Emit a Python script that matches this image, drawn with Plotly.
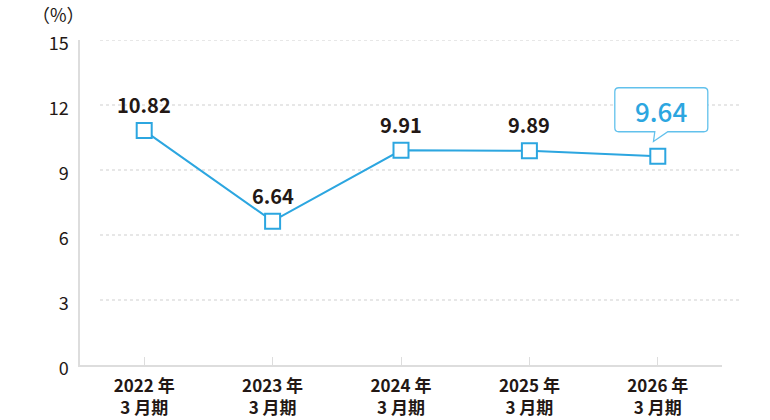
import plotly.graph_objects as go

categories = ["2022 年<br>3 月期", "2023 年<br>3 月期", "2024 年<br>3 月期", "2025 年<br>3 月期", "2026 年<br>3 月期"]
values = [10.82, 6.64, 9.91, 9.89, 9.64]
labels = ["10.82", "6.64", "9.91", "9.89", "9.64"]
y_ticks = [0, 3, 6, 9, 12, 15]

FONT = "Noto Sans CJK JP, Noto Sans, sans-serif"
BLUE = "#2ca6e0"
DARK = "#231815"

xs = list(range(len(categories)))

fig = go.Figure()
fig.add_trace(go.Scatter(
    x=xs, y=values, mode="lines+markers",
    line=dict(color=BLUE, width=2),
    marker=dict(symbol="square", size=15, color="white", line=dict(color=BLUE, width=2)),
    hoverinfo="skip", cliponaxis=False,
))

# gridlines (dotted)
for t in y_ticks[1:]:
    fig.add_shape(type="line", xref="paper", yref="y", x0=20/642, x1=660/642, y0=t, y1=t,
                  line=dict(color="#cfcfcf", width=1, dash="dot"), layer="below")

# data labels
for i, (v, lab) in enumerate(zip(values, labels)):
    if i < len(values) - 1:
        fig.add_annotation(x=xs[i], y=v, text=lab, showarrow=False, yshift=26,
                           font=dict(family=FONT, size=20, color=DARK, weight="bold"))

# callout for last value
i = len(values) - 1
L, R, T, B, r = -43, 50, 68.4, 24.4, 4
path = (f"M {L+r},{T} L {R-r},{T} Q {R},{T} {R},{T-r} L {R},{B+r} Q {R},{B} {R-r},{B} "
        f"L 10,{B} L -4.3,14.7 L -3,{B} L {L+r},{B} Q {L},{B} {L},{B+r} L {L},{T-r} Q {L},{T} {L+r},{T} Z")
fig.add_shape(type="path", xsizemode="pixel", ysizemode="pixel", xanchor=xs[i], yanchor=values[i],
              xref="x", yref="y", path=path, fillcolor="white",
              line=dict(color="#62c1ec", width=1.3), layer="above")
fig.add_annotation(x=xs[i], y=values[i], text=labels[i], showarrow=False, xshift=3, yshift=46,
                   font=dict(family=FONT, size=26, color=BLUE, weight=500))

fig.add_annotation(xref="paper", yref="paper", x=-22/642, y=1 + 26/325, text="（%）", showarrow=False,
                   xanchor="center", yanchor="middle",
                   font=dict(family=FONT, size=18, color=DARK))

fig.update_layout(
    width=770, height=420,
    margin=dict(l=80, r=48, t=40, b=55),
    plot_bgcolor="white", paper_bgcolor="white",
    showlegend=False,
    xaxis=dict(range=[-0.5, 4.5], tickvals=xs, ticktext=categories, showgrid=False, zeroline=False,
               showline=True, linecolor="#dddddd", linewidth=1.5, ticks="inside", ticklen=8,
               tickcolor="#dddddd", tickfont=dict(family=FONT, size=17, color=DARK, weight="bold"),
               ticklabelstandoff=5, automargin=False, fixedrange=True),
    yaxis=dict(range=[0, 15], tickvals=y_ticks, showgrid=False, zeroline=False,
               showline=True, linecolor="#dddddd", linewidth=1.5, ticks="",
               ticklabelstandoff=6, ticklabelshift=4, automargin=False,
               tickfont=dict(family=FONT, size=18, color=DARK), fixedrange=True),
)

fig.write_html("out.html")
